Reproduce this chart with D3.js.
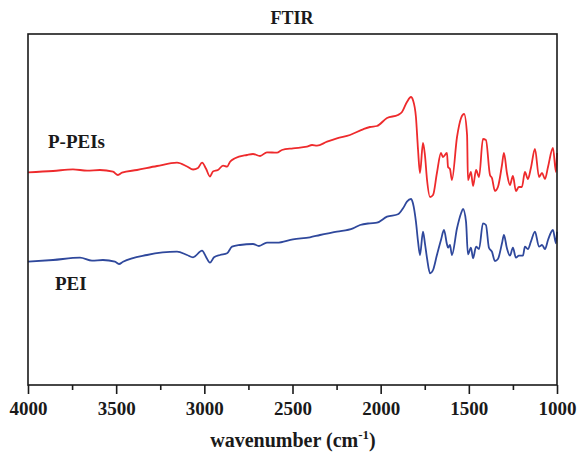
<!DOCTYPE html>
<html><head><meta charset="utf-8">
<script src="https://cdn.jsdelivr.net/npm/d3@7"></script>
<style>html,body{margin:0;padding:0;background:#fff;}svg{display:block;}</style>
</head><body>
<svg id="chart" width="579" height="459"></svg>
<script>
// Wavenumber (cm-1) and transmittance (a.u.)
const ppeiWave = [4000,3858,3745,3665,3592,3518,3490,3467,3382,3268,3155,3098,3064,3036,3013,2991,2968,2951,2923,2894,2871,2854,2826,2758,2724,2684,2645,2588,2560,2497,2418,2389,2361,2304,2248,2174,2100,2061,2021,1964,1902,1879,1851,1828,1817,1800,1788,1777,1760,1749,1737,1720,1703,1681,1658,1647,1624,1618,1607,1596,1567,1544,1527,1510,1505,1488,1476,1459,1442,1420,1403,1380,1369,1352,1335,1312,1301,1284,1267,1250,1233,1216,1199,1182,1165,1148,1125,1102,1085,1068,1051,1023,1006,1000];
const ppeiT = [212.7,214,215.7,214.3,215,213.3,210,212.3,215,219,222.3,218.5,215.5,217,222.3,216.5,208.5,213.5,215,219.3,218.3,223.3,226.7,230,231,229,232.7,232.3,235,236.7,238.3,240,239.3,243.3,246.7,250,255.7,258,259,267,270,273,283,288,285,268,235,212,242,230,205,188,190,212,232,228,232,218,216,205,248,267,271,250,205,213,199,215,208,246,245,210,207,194,198,220,232,212,200,209,194,198,198,213,206,217,236,208,212,206,218,237,213,232];

const peiWave = [4000,3858,3705,3637,3575,3507,3484,3461,3325,3155,3098,3064,3013,2991,2968,2945,2911,2871,2843,2798,2724,2690,2645,2588,2497,2401,2344,2248,2157,2117,2061,2021,1964,1902,1873,1851,1828,1817,1800,1788,1777,1760,1749,1737,1720,1703,1681,1658,1641,1624,1618,1607,1596,1567,1544,1533,1516,1505,1488,1476,1459,1442,1420,1403,1386,1369,1352,1335,1312,1301,1284,1267,1250,1233,1216,1193,1182,1165,1148,1125,1102,1085,1068,1051,1023,1006,1000];
const peiT = [123.3,125,127.3,124.3,125,123.3,121,123.3,130,133.3,130,127.7,134.3,128.3,122.3,127.7,130,131.7,138.3,140,141,139,142.3,142.3,145.7,147.7,150,153.3,156.7,160,161.7,162.3,168.3,170.7,176.7,183.3,186,181.7,163.3,143.3,130,153.3,141.7,126.7,111.7,115,130,145,155,140.7,137.3,140,130,156.7,171.7,176,163.3,130.7,137.3,126.7,138.3,136,161.7,160,137.3,133.3,124,126,141.7,150,136.7,129.3,137.3,127.3,129.3,129.3,138.3,136,143.3,153.3,138.3,140,136,145,155,141.7,153.3];

const xTicks = [4000,3500,3000,2500,2000,1500,1000];
const xMinorTicks = [3750,3250,2750,2250,1750,1250];
const seriesNames = ["P-PEIs","PEI"];

const svg = d3.select("#chart");
const m = {left:28, right:557, top:34, bottom:385};
const x = d3.scaleLinear().domain([4000,1000]).range([m.left, m.right]);
const y = d3.scaleLinear().domain([0,351]).range([m.bottom, m.top]);
const serif = "'Liberation Serif','DejaVu Serif',serif";

const line = d3.line().x(d => x(d[0])).y(d => y(d[1])).curve(d3.curveMonotoneX);
const series = [
  {name: seriesNames[0], data: d3.zip(ppeiWave, ppeiT), color: "#ee2a2c"},
  {name: seriesNames[1], data: d3.zip(peiWave, peiT), color: "#2f489c"}
];
svg.selectAll("path.series").data(series).join("path")
  .attr("class","series")
  .attr("d", d => line(d.data))
  .attr("fill","none").attr("stroke", d => d.color)
  .attr("stroke-width", 1.8).attr("stroke-linejoin","round");

// frame
svg.append("rect").attr("x", m.left).attr("y", m.top)
  .attr("width", m.right - m.left).attr("height", m.bottom - m.top)
  .attr("fill","none").attr("stroke","#1a1a1a").attr("stroke-width",1.6);

// bottom axis
const ax = svg.append("g").attr("transform", `translate(0,${m.bottom})`);
ax.call(d3.axisBottom(x).tickValues(xMinorTicks).tickSize(5).tickFormat(""))
  .call(g => g.select(".domain").remove());
ax.append("g").call(d3.axisBottom(x).tickValues(xTicks).tickSize(9).tickPadding(8).tickFormat(d3.format("d")))
  .call(g => g.select(".domain").remove());
ax.selectAll("line").attr("stroke","#1a1a1a").attr("stroke-width",1.6);
ax.selectAll("text").attr("font-family", serif).attr("font-weight","bold")
  .attr("font-size", 19).attr("fill","#1a1a1a");

// title
svg.append("text").attr("x", 292).attr("y", 24).attr("text-anchor","middle")
  .attr("font-family", serif).attr("font-weight","bold").attr("font-size",18)
  .attr("fill","#1a1a1a").text("FTIR");

// x axis label
const xl = svg.append("text").attr("x", 293).attr("y", 447).attr("text-anchor","middle")
  .attr("font-family", serif).attr("font-weight","bold").attr("font-size",20).attr("fill","#1a1a1a");
xl.append("tspan").text("wavenumber (cm");
xl.append("tspan").attr("dy",-8).attr("font-size",13).text("-1");
xl.append("tspan").attr("dy",8).text(")");

// series labels
svg.append("text").attr("x", 48).attr("y", 148).attr("font-family", serif).attr("font-weight","bold")
  .attr("font-size",19).attr("fill","#1a1a1a").text(seriesNames[0]);
svg.append("text").attr("x", 55).attr("y", 290).attr("font-family", serif).attr("font-weight","bold")
  .attr("font-size",19).attr("fill","#1a1a1a").text(seriesNames[1]);
</script>
</body></html>
